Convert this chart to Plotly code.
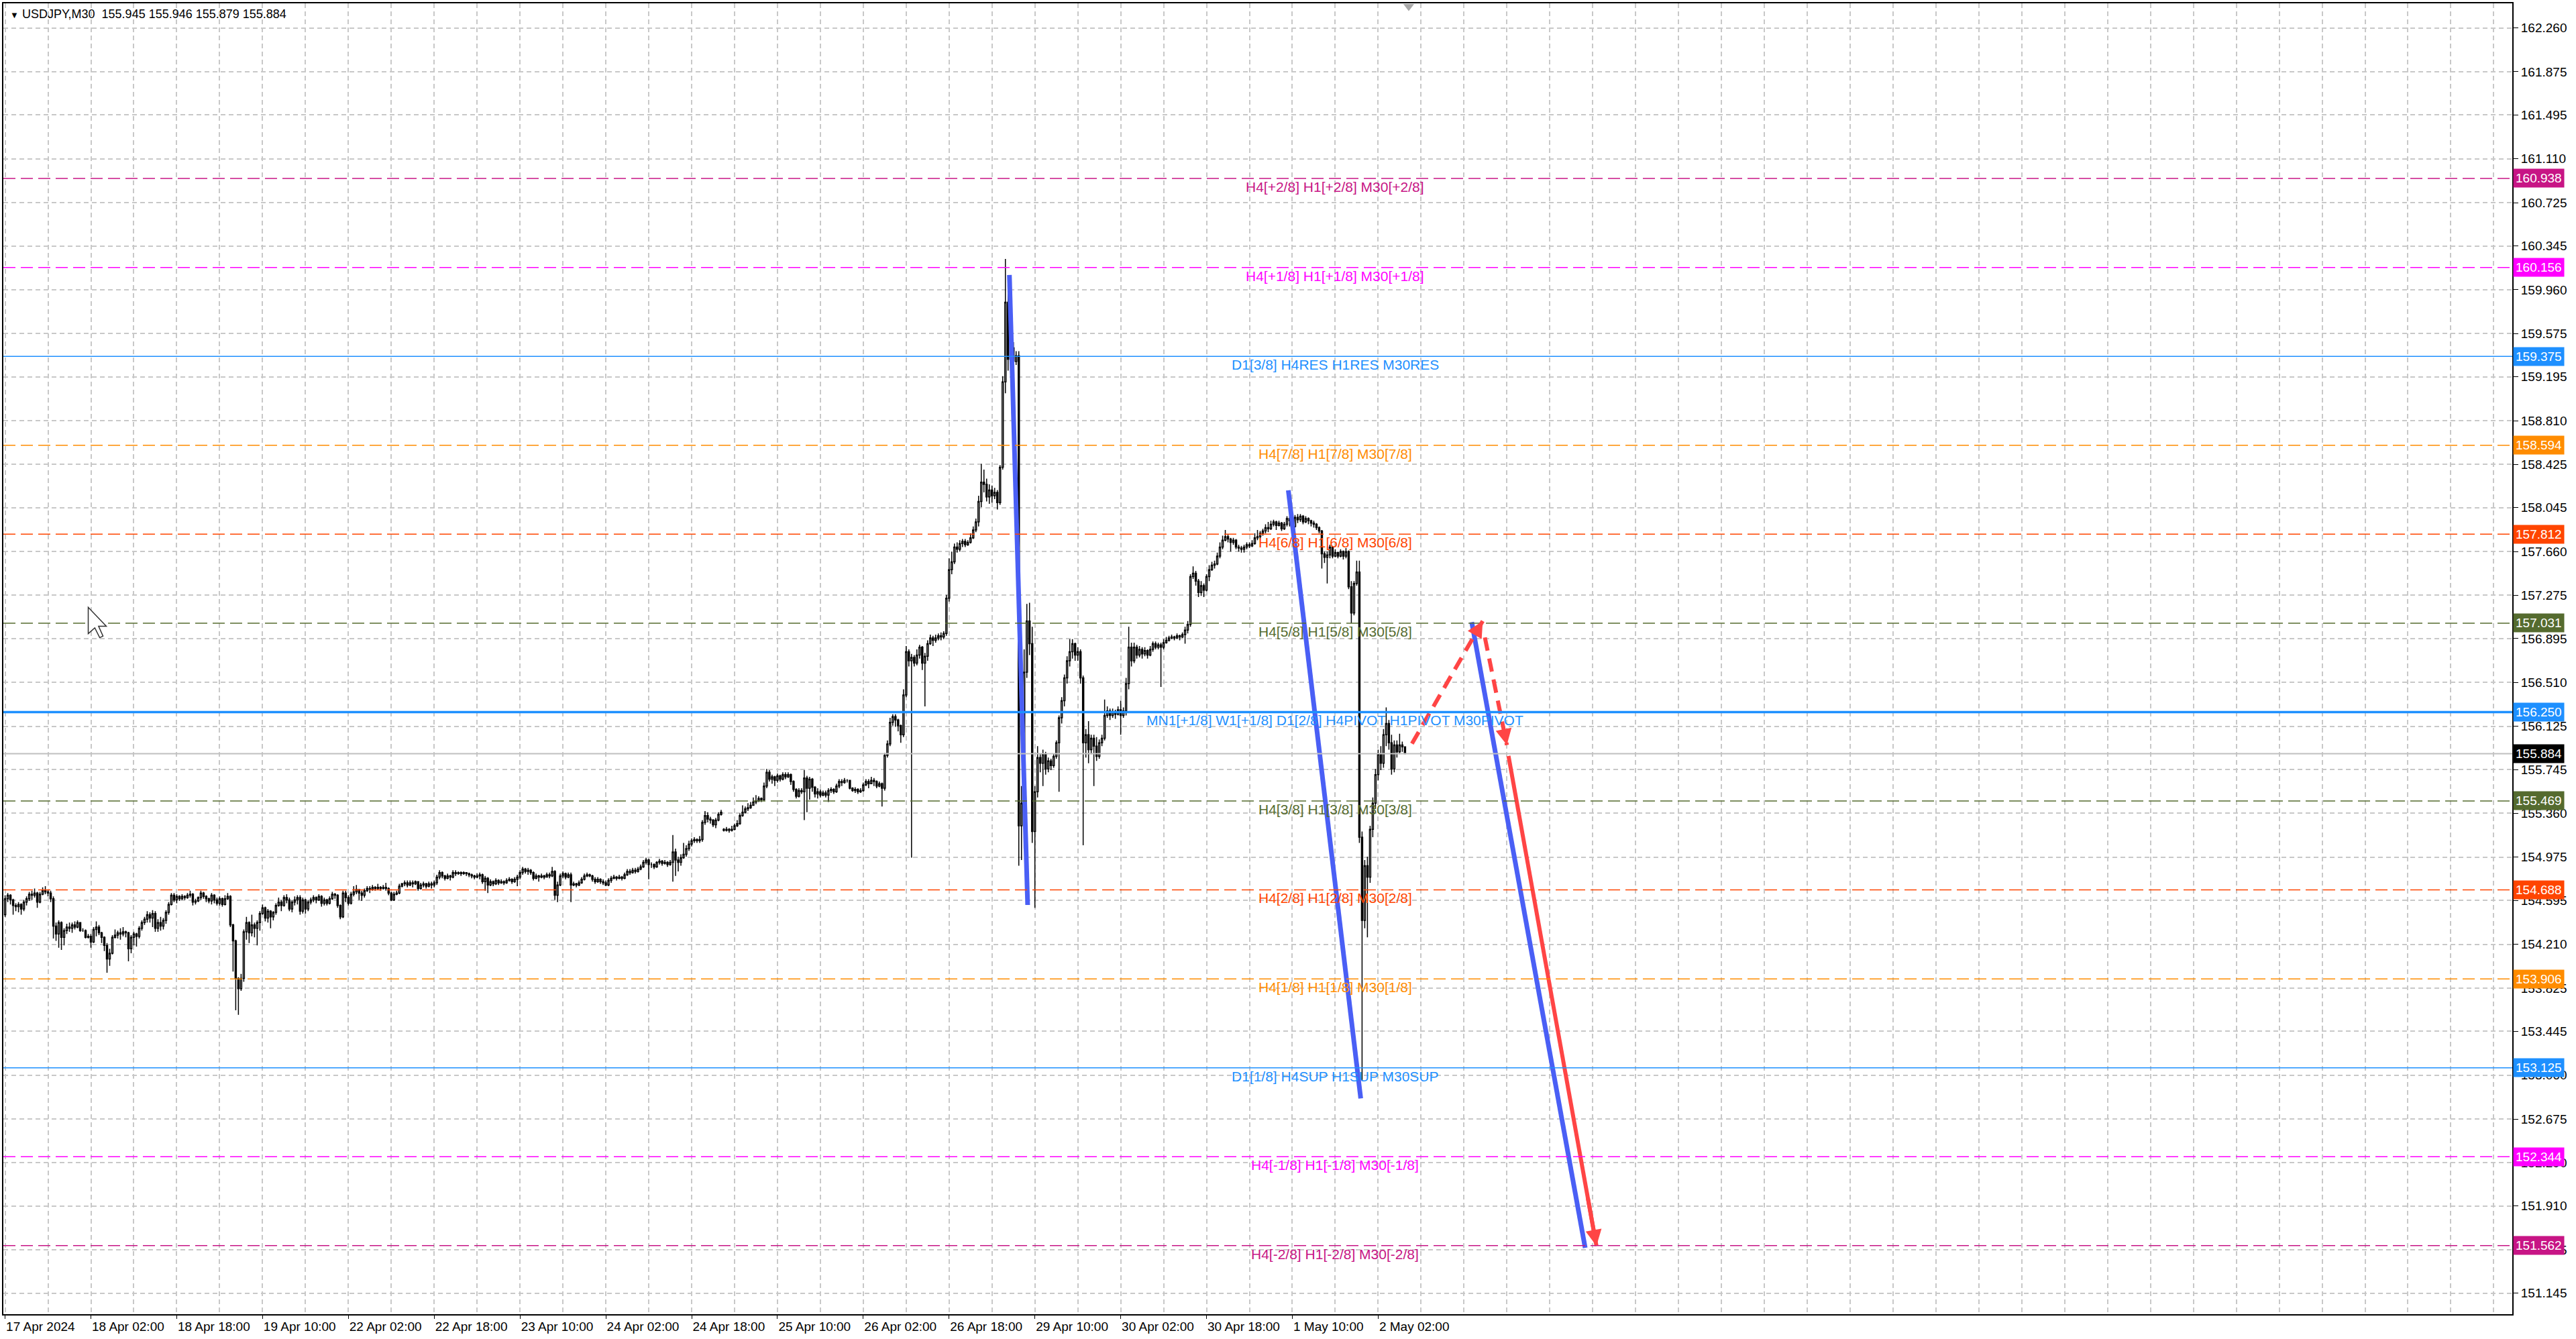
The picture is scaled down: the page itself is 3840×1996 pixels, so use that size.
import plotly.graph_objects as go

# USDJPY M30, bar 0 = 17 Apr 2024 10:00 (bar index used as x)
closes = [
    154.61, 154.64, 154.60, 154.55, 154.54, 154.56, 154.52, 154.58, 154.61, 154.65, 154.64, 154.66, 154.58, 154.65, 154.68, 154.67,
    154.66, 154.61, 154.37, 154.30, 154.40, 154.27, 154.33, 154.36, 154.35, 154.38, 154.36, 154.40, 154.33, 154.33, 154.27, 154.28,
    154.23, 154.34, 154.36, 154.31, 154.27, 154.20, 154.08, 154.13, 154.27, 154.29, 154.31, 154.30, 154.32, 154.31, 154.17, 154.27,
    154.30, 154.28, 154.35, 154.40, 154.43, 154.47, 154.44, 154.48, 154.35, 154.40, 154.37, 154.42, 154.49, 154.56, 154.64, 154.60,
    154.63, 154.61, 154.63, 154.62, 154.64, 154.65, 154.58, 154.59, 154.62, 154.66, 154.63, 154.61, 154.59, 154.64, 154.60, 154.57,
    154.61, 154.56, 154.61, 154.63, 154.38, 154.24, 153.91, 153.82, 153.91, 154.32, 154.40, 154.31, 154.38, 154.35, 154.40, 154.48,
    154.53, 154.44, 154.50, 154.45, 154.49, 154.55, 154.58, 154.55, 154.62, 154.60, 154.52, 154.58, 154.60, 154.62, 154.50, 154.60,
    154.52, 154.58, 154.60, 154.62, 154.60, 154.63, 154.57, 154.60, 154.57, 154.61, 154.65, 154.64, 154.55, 154.45, 154.66, 154.62,
    154.57, 154.65, 154.67, 154.69, 154.66, 154.64, 154.68, 154.70, 154.69, 154.71, 154.70, 154.71, 154.70, 154.71, 154.70, 154.66,
    154.60, 154.65, 154.66, 154.72, 154.74, 154.75, 154.73, 154.75, 154.74, 154.76, 154.70, 154.73, 154.74, 154.72, 154.74, 154.73,
    154.75, 154.80, 154.84, 154.81, 154.79, 154.81, 154.80, 154.84, 154.83, 154.84, 154.83, 154.84, 154.83, 154.82, 154.81, 154.80,
    154.81, 154.82, 154.76, 154.79, 154.73, 154.76, 154.74, 154.77, 154.75, 154.76, 154.75, 154.77, 154.78, 154.76, 154.78, 154.80,
    154.84, 154.87, 154.85, 154.86, 154.84, 154.79, 154.81, 154.80, 154.81, 154.80, 154.82, 154.81, 154.85, 154.64, 154.73, 154.81,
    154.83, 154.80, 154.82, 154.73, 154.74, 154.73, 154.75, 154.78, 154.81, 154.82, 154.81, 154.78, 154.76, 154.78, 154.76, 154.75,
    154.73, 154.77, 154.79, 154.80, 154.79, 154.80, 154.79, 154.82, 154.85, 154.84, 154.86, 154.85, 154.87, 154.89, 154.93, 154.95,
    154.91, 154.91, 154.89, 154.93, 154.94, 154.92, 154.93, 154.91, 154.93, 155.02, 154.95, 154.93, 154.97, 155.00, 155.05, 155.09,
    155.12, 155.13, 155.12, 155.13, 155.28, 155.34, 155.31, 155.30, 155.26, 155.30, 155.35, 155.37, 155.21, 155.22, 155.21, 155.22,
    155.25, 155.27, 155.34, 155.37, 155.40, 155.41, 155.43, 155.46, 155.47, 155.49, 155.48, 155.60, 155.72, 155.66, 155.68, 155.65,
    155.69, 155.66, 155.70, 155.68, 155.70, 155.64, 155.57, 155.51, 155.56, 155.55, 155.67, 155.58, 155.66, 155.59, 155.53, 155.55,
    155.52, 155.54, 155.52, 155.56, 155.57, 155.55, 155.60, 155.64, 155.63, 155.65, 155.65, 155.58, 155.56, 155.57, 155.55, 155.56,
    155.61, 155.64, 155.62, 155.65, 155.64, 155.60, 155.62, 155.58, 155.87, 155.97, 156.16, 156.21, 156.18, 156.13, 156.05, 156.40,
    156.78, 156.70, 156.73, 156.68, 156.75, 156.82, 156.68, 156.74, 156.85, 156.90, 156.88, 156.90, 156.92, 156.91, 156.94, 157.25,
    157.50, 157.57, 157.70, 157.68, 157.73, 157.75, 157.72, 157.74, 157.78, 157.85, 157.92, 158.10, 158.27, 158.25, 158.14, 158.20,
    158.15, 158.18, 158.09, 158.40, 159.15, 159.85, 159.35, 159.45, 159.33, 159.38, 155.25, 155.45, 156.60, 157.05, 156.85, 155.20,
    155.55, 155.85, 155.80, 155.88, 155.75, 155.82, 155.78, 155.86, 155.98, 156.20, 156.35, 156.55, 156.70, 156.78, 156.85, 156.75,
    156.78, 156.55, 155.98, 156.05, 155.92, 156.02, 155.95, 155.86, 155.98, 156.02, 156.22, 156.26, 156.22, 156.25, 156.23, 156.27,
    156.22, 156.26, 156.50, 156.82, 156.70, 156.82, 156.75, 156.80, 156.76, 156.79, 156.75, 156.80, 156.85, 156.82, 156.84, 156.82,
    156.86, 156.88, 156.90, 156.91, 156.90, 156.92, 156.91, 156.93, 156.97, 157.02, 157.44, 157.47, 157.40, 157.30, 157.36, 157.32,
    157.44, 157.50, 157.54, 157.55, 157.62, 157.70, 157.76, 157.79, 157.77, 157.74, 157.76, 157.70, 157.69, 157.68, 157.70, 157.72,
    157.71, 157.73, 157.78, 157.79, 157.82, 157.84, 157.87, 157.86, 157.90, 157.92, 157.89, 157.91, 157.86, 157.90, 157.95, 157.93,
    157.88, 157.96, 157.94, 157.97, 157.92, 157.95, 157.93, 157.91, 157.90, 157.87, 157.84, 157.64, 157.61, 157.63, 157.70, 157.62,
    157.65, 157.62, 157.66, 157.62, 157.66, 157.35, 157.12, 157.38, 157.48, 155.15, 154.42, 154.90, 154.80, 155.22, 155.45, 155.70,
    155.88, 155.80, 156.05, 156.15, 155.98, 155.75, 155.96, 155.90, 155.96, 155.945, 155.884,
]
highs = [
    154.64, 154.66, 154.65, 154.61, 154.57, 154.58, 154.57, 154.60, 154.63, 154.67, 154.68, 154.70, 154.67, 154.67, 154.71, 154.72,
    154.69, 154.68, 154.63, 154.40, 154.42, 154.41, 154.35, 154.39, 154.40, 154.40, 154.41, 154.42, 154.40, 154.35, 154.34, 154.30,
    154.30, 154.36, 154.41, 154.38, 154.32, 154.28, 154.22, 154.17, 154.29, 154.34, 154.33, 154.35, 154.36, 154.33, 154.32, 154.29,
    154.32, 154.31, 154.37, 154.42, 154.45, 154.50, 154.49, 154.51, 154.50, 154.43, 154.45, 154.44, 154.51, 154.58, 154.66, 154.66,
    154.65, 154.64, 154.65, 154.64, 154.66, 154.68, 154.66, 154.61, 154.63, 154.68, 154.67, 154.64, 154.62, 154.66, 154.65, 154.62,
    154.63, 154.62, 154.64, 154.66, 154.64, 154.39, 154.25, 153.92, 153.95, 154.34, 154.45, 154.41, 154.47, 154.40, 154.42, 154.50,
    154.56, 154.54, 154.52, 154.51, 154.50, 154.57, 154.62, 154.60, 154.64, 154.65, 154.62, 154.60, 154.63, 154.64, 154.64, 154.62,
    154.61, 154.60, 154.62, 154.64, 154.63, 154.65, 154.64, 154.62, 154.61, 154.63, 154.67, 154.66, 154.65, 154.56, 154.68, 154.68,
    154.64, 154.67, 154.72, 154.73, 154.69, 154.68, 154.70, 154.72, 154.72, 154.73, 154.72, 154.74, 154.72, 154.73, 154.75, 154.71,
    154.67, 154.67, 154.68, 154.74, 154.75, 154.77, 154.77, 154.77, 154.77, 154.77, 154.76, 154.75, 154.76, 154.75, 154.76, 154.76,
    154.77, 154.82, 154.86, 154.85, 154.82, 154.83, 154.82, 154.86, 154.86, 154.85, 154.85, 154.85, 154.84, 154.84, 154.83, 154.82,
    154.83, 154.84, 154.83, 154.81, 154.80, 154.78, 154.77, 154.79, 154.78, 154.78, 154.77, 154.79, 154.80, 154.79, 154.80, 154.82,
    154.86, 154.89, 154.88, 154.88, 154.87, 154.85, 154.83, 154.82, 154.83, 154.82, 154.84, 154.84, 154.89, 154.86, 154.76, 154.83,
    154.85, 154.84, 154.84, 154.84, 154.76, 154.75, 154.77, 154.80, 154.83, 154.84, 154.83, 154.82, 154.80, 154.80, 154.79, 154.78,
    154.77, 154.79, 154.81, 154.82, 154.81, 154.82, 154.81, 154.84, 154.87, 154.87, 154.88, 154.88, 154.89, 154.91, 154.95, 154.97,
    154.96, 154.93, 154.92, 154.94, 154.96, 154.95, 154.95, 154.94, 154.95, 155.17, 155.05, 154.98, 155.00, 155.10, 155.08, 155.12,
    155.14, 155.15, 155.14, 155.16, 155.30, 155.38, 155.37, 155.33, 155.31, 155.32, 155.37, 155.39, 155.23, 155.24, 155.23, 155.25,
    155.27, 155.30, 155.36, 155.43, 155.42, 155.45, 155.46, 155.50, 155.52, 155.51, 155.50, 155.63, 155.75, 155.74, 155.70, 155.69,
    155.71, 155.70, 155.72, 155.72, 155.72, 155.71, 155.65, 155.58, 155.58, 155.58, 155.74, 155.69, 155.68, 155.67, 155.60, 155.58,
    155.57, 155.56, 155.56, 155.58, 155.59, 155.58, 155.62, 155.66, 155.66, 155.67, 155.66, 155.65, 155.59, 155.59, 155.58, 155.58,
    155.63, 155.66, 155.66, 155.68, 155.67, 155.65, 155.64, 155.63, 155.89, 156.00, 156.20, 156.23, 156.23, 156.19, 156.14, 156.45,
    156.83, 156.80, 156.76, 156.75, 156.80, 156.84, 156.83, 156.77, 156.88, 156.93, 156.92, 156.93, 156.94, 156.95, 156.96, 157.28,
    157.60, 157.66, 157.73, 157.74, 157.76, 157.77, 157.77, 157.76, 157.82, 157.88, 157.95, 158.15, 158.43, 158.38, 158.30, 158.25,
    158.24, 158.22, 158.20, 158.42, 159.20, 160.23, 160.00, 159.59, 159.50, 159.42, 159.42, 155.60, 156.80, 157.20, 157.21, 157.00,
    155.60, 155.95, 155.88, 155.92, 155.90, 155.85, 155.84, 155.88, 156.00, 156.22, 156.38, 156.58, 156.74, 156.89, 156.89, 156.86,
    156.82, 156.80, 156.57, 156.10, 156.17, 156.05, 156.05, 156.03, 156.01, 156.05, 156.36, 156.30, 156.28, 156.28, 156.27, 156.30,
    156.35, 156.29, 156.55, 157.00, 156.86, 156.86, 156.84, 156.83, 156.82, 156.82, 156.80, 156.83, 156.87, 156.87, 156.86, 156.86,
    156.89, 156.91, 156.92, 156.93, 156.92, 156.94, 156.93, 156.95, 157.00, 157.05, 157.46, 157.53, 157.49, 157.42, 157.40, 157.38,
    157.46, 157.54, 157.57, 157.58, 157.65, 157.74, 157.80, 157.85, 157.81, 157.78, 157.78, 157.77, 157.72, 157.71, 157.72, 157.74,
    157.74, 157.76, 157.82, 157.85, 157.84, 157.86, 157.90, 157.92, 157.93, 157.94, 157.93, 157.93, 157.92, 157.92, 157.97, 157.97,
    157.95, 157.98, 157.99, 157.99, 157.98, 157.97, 157.96, 157.94, 157.93, 157.91, 157.88, 157.85, 157.66, 157.66, 157.72, 157.71,
    157.68, 157.66, 157.68, 157.67, 157.69, 157.67, 157.40, 157.40, 157.58, 157.58, 155.20, 154.95, 154.98, 155.25, 155.50, 155.75,
    155.92, 155.95, 156.10, 156.29, 156.18, 156.05, 156.00, 156.00, 156.06, 155.99, 155.946,
]
lows = [
    154.45, 154.58, 154.56, 154.47, 154.50, 154.49, 154.47, 154.50, 154.55, 154.59, 154.60, 154.62, 154.53, 154.57, 154.64, 154.65,
    154.63, 154.58, 154.26, 154.24, 154.18, 154.16, 154.20, 154.30, 154.32, 154.31, 154.34, 154.35, 154.32, 154.32, 154.26, 154.26,
    154.18, 154.22, 154.28, 154.29, 154.22, 154.15, 153.96, 154.02, 154.12, 154.26, 154.26, 154.25, 154.28, 154.27, 154.06, 154.13,
    154.20, 154.19, 154.26, 154.33, 154.38, 154.40, 154.40, 154.36, 154.32, 154.32, 154.33, 154.34, 154.39, 154.47, 154.55, 154.58,
    154.57, 154.59, 154.60, 154.60, 154.61, 154.62, 154.55, 154.56, 154.58, 154.60, 154.61, 154.58, 154.57, 154.56, 154.57, 154.55,
    154.55, 154.54, 154.55, 154.60, 154.36, 153.97, 153.63, 153.59, 153.80, 153.88, 154.25, 154.22, 154.28, 154.27, 154.20, 154.33,
    154.47, 154.41, 154.40, 154.35, 154.42, 154.47, 154.54, 154.50, 154.54, 154.57, 154.50, 154.49, 154.55, 154.56, 154.47, 154.48,
    154.48, 154.50, 154.56, 154.58, 154.57, 154.59, 154.54, 154.55, 154.55, 154.56, 154.60, 154.61, 154.53, 154.43, 154.44, 154.58,
    154.55, 154.56, 154.63, 154.65, 154.60, 154.59, 154.62, 154.67, 154.66, 154.68, 154.68, 154.69, 154.68, 154.69, 154.68, 154.64,
    154.59, 154.59, 154.64, 154.65, 154.71, 154.72, 154.71, 154.72, 154.71, 154.73, 154.68, 154.69, 154.71, 154.70, 154.71, 154.70,
    154.71, 154.73, 154.78, 154.79, 154.77, 154.78, 154.77, 154.79, 154.81, 154.82, 154.81, 154.82, 154.81, 154.80, 154.79, 154.78,
    154.79, 154.78, 154.74, 154.68, 154.66, 154.72, 154.72, 154.73, 154.73, 154.74, 154.73, 154.74, 154.76, 154.74, 154.75, 154.72,
    154.78, 154.82, 154.83, 154.82, 154.82, 154.77, 154.78, 154.76, 154.79, 154.78, 154.80, 154.79, 154.80, 154.60, 154.58, 154.72,
    154.79, 154.78, 154.79, 154.58, 154.72, 154.71, 154.72, 154.74, 154.77, 154.80, 154.80, 154.76, 154.74, 154.75, 154.74, 154.73,
    154.72, 154.72, 154.75, 154.78, 154.77, 154.78, 154.77, 154.78, 154.81, 154.82, 154.83, 154.83, 154.84, 154.86, 154.88, 154.91,
    154.78, 154.88, 154.87, 154.88, 154.91, 154.90, 154.91, 154.89, 154.90, 154.76, 154.81, 154.85, 154.90, 154.96, 154.98, 155.03,
    155.07, 155.10, 155.10, 155.10, 155.11, 155.26, 155.28, 155.27, 155.24, 155.23, 155.29, 155.34, 155.20, 155.20, 155.19, 155.20,
    155.21, 155.24, 155.26, 155.33, 155.36, 155.38, 155.40, 155.43, 155.44, 155.46, 155.46, 155.47, 155.58, 155.64, 155.62, 155.60,
    155.63, 155.64, 155.65, 155.66, 155.67, 155.61, 155.55, 155.49, 155.50, 155.53, 155.30, 155.37, 155.48, 155.55, 155.50, 155.49,
    155.50, 155.51, 155.50, 155.46, 155.54, 155.53, 155.54, 155.58, 155.60, 155.62, 155.63, 155.57, 155.55, 155.54, 155.53, 155.54,
    155.55, 155.60, 155.58, 155.62, 155.60, 155.58, 155.59, 155.42, 155.56, 155.85, 155.95, 156.13, 156.12, 156.08, 155.98, 156.03,
    156.38, 156.65, 154.97, 156.65, 156.66, 156.72, 156.62, 156.30, 156.70, 156.84, 156.83, 156.86, 156.88, 156.88, 156.89, 156.92,
    157.22, 157.46, 157.55, 157.65, 157.66, 157.70, 157.70, 157.71, 157.73, 157.77, 157.83, 157.88, 158.05, 158.18, 158.10, 158.08,
    158.09, 158.12, 158.03, 158.07, 158.38, 159.05, 159.25, 159.28, 159.28, 159.30, 154.90, 154.95, 155.05, 156.55, 156.75, 155.10,
    154.53, 155.50, 155.72, 155.60, 155.70, 155.72, 155.74, 155.76, 155.84, 155.55, 156.15, 156.30, 156.50, 156.65, 156.72, 156.70,
    156.70, 156.50, 155.08, 155.85, 155.80, 155.88, 155.60, 155.82, 155.84, 155.95, 156.00, 156.20, 156.18, 156.20, 156.19, 156.22,
    156.05, 156.20, 156.22, 156.45, 156.65, 156.68, 156.72, 156.73, 156.72, 156.74, 156.72, 156.74, 156.78, 156.80, 156.80, 156.47,
    156.80, 156.85, 156.87, 156.89, 156.88, 156.89, 156.88, 156.90, 156.85, 156.94, 157.00, 157.42, 157.36, 157.26, 157.27, 157.26,
    157.31, 157.40, 157.49, 157.51, 157.54, 157.60, 157.68, 157.75, 157.74, 157.66, 157.72, 157.68, 157.66, 157.65, 157.65, 157.68,
    157.69, 157.70, 157.72, 157.76, 157.77, 157.80, 157.82, 157.83, 157.85, 157.88, 157.85, 157.88, 157.84, 157.85, 157.88, 157.88,
    157.86, 157.87, 157.91, 157.92, 157.90, 157.91, 157.90, 157.88, 157.87, 157.85, 157.82, 157.51, 157.56, 157.38, 157.60, 157.60,
    157.61, 157.60, 157.61, 157.59, 157.60, 157.33, 157.03, 157.10, 157.36, 155.10, 153.01, 154.35, 154.27, 154.75, 155.15, 155.40,
    155.65, 155.74, 155.76, 155.95, 155.92, 155.70, 155.72, 155.85, 155.88, 155.90, 155.879,
]
# bars whose open is not the previous close
gap_opens = {0: 154.47, 268: 155.22}

tick_bars = list(range(0, 513, 32))
tick_labels = ["17 Apr 2024", "18 Apr 02:00", "18 Apr 18:00", "19 Apr 10:00", "22 Apr 02:00",
               "22 Apr 18:00", "23 Apr 10:00", "24 Apr 02:00", "24 Apr 18:00", "25 Apr 10:00",
               "26 Apr 02:00", "26 Apr 18:00", "29 Apr 10:00", "30 Apr 02:00", "30 Apr 18:00",
               "1 May 10:00", "2 May 02:00"]

price_ticks = [162.260, 161.875, 161.495, 161.110, 160.725, 160.345, 159.960, 159.575, 159.195,
               158.810, 158.425, 158.045, 157.660, 157.275, 156.895, 156.510, 156.125, 155.745,
               155.360, 154.975, 154.595, 154.210, 153.825, 153.445, 153.060, 152.675, 152.290,
               151.910, 151.525, 151.145]

levels = [160.938, 160.156, 159.375, 158.594, 157.812, 157.031, 156.250,
          155.469, 154.688, 153.906, 153.125, 152.344, 151.562]
level_names = ["H4[+2/8] H1[+2/8] M30[+2/8]", "H4[+1/8] H1[+1/8] M30[+1/8]",
               "D1[3/8] H4RES H1RES M30RES", "H4[7/8] H1[7/8] M30[7/8]",
               "H4[6/8] H1[6/8] M30[6/8]", "H4[5/8] H1[5/8] M30[5/8]",
               "MN1[+1/8] W1[+1/8] D1[2/8] H4PIVOT H1PIVOT M30PIVOT",
               "H4[3/8] H1[3/8] M30[3/8]", "H4[2/8] H1[2/8] M30[2/8]",
               "H4[1/8] H1[1/8] M30[1/8]", "D1[1/8] H4SUP H1SUP M30SUP",
               "H4[-1/8] H1[-1/8] M30[-1/8]", "H4[-2/8] H1[-2/8] M30[-2/8]"]
level_colors = ["#C71585", "#FF00FF", "#1E90FF", "#FF8C00", "#FF4500", "#556B2F", "#1E90FF",
                "#556B2F", "#FF4500", "#FF8C00", "#1E90FF", "#FF00FF", "#C71585"]
level_solid = [False, False, True, False, False, False, True,
               False, False, False, True, False, False]
level_widths = [1.5, 1.5, 1.5, 1.5, 1.5, 1.5, 3.5, 1.5, 1.5, 1.5, 1.5, 1.5, 1.5]
label_bar = 496

last_price = 155.884
header = "USDJPY,M30\u00a0 155.945 155.946 155.879 155.884"

# drawn objects: (bar, price) start -> end
blue_lines = [((374.5, 160.09), (381.3, 154.555)),
              ((478.5, 158.198), (505.5, 152.855)),
              ((546.9, 157.04), (589.2, 151.543))]
red_dashed = [((524.6, 155.972), (551.0, 157.05)),
              ((551.8, 156.905), (560.0, 155.96))]
red_solid = [((560.6, 155.864), (593.4, 151.56))]

# chart shift marker and the mouse pointer left on the chart
shift_bar = 523.4
pointer_bar, pointer_price = 31.0, 157.17

BLUE = "#4a5ff5"
RED = "#ff4545"
FONT = "Liberation Sans"

bars = list(range(len(closes)))
opens = [gap_opens.get(i, closes[i - 1]) for i in bars]
highs = [max(h, o, c) for h, o, c in zip(highs, opens, closes)]
lows = [min(l, o, c) for l, o, c in zip(lows, opens, closes)]

fig = go.Figure()
fig.add_trace(go.Candlestick(
    x=bars, open=opens, high=highs, low=lows, close=closes,
    increasing=dict(line=dict(color="black", width=1.5), fillcolor="white"),
    decreasing=dict(line=dict(color="black", width=1.5), fillcolor="black"),
    whiskerwidth=0, showlegend=False, hoverinfo="skip",
))

# Murrey levels
for lv, col, solid, w in zip(levels, level_colors, level_solid, level_widths):
    fig.add_shape(type="line", xref="paper", x0=0, x1=1, yref="y", y0=lv, y1=lv,
                  line=dict(color=col, width=w, dash="solid" if solid else "18px,8px"))
fig.add_shape(type="line", xref="paper", x0=0, x1=1, yref="y", y0=last_price, y1=last_price,
              line=dict(color="#c0c0c0", width=2))

for lv, name, col in zip(levels, level_names, level_colors):
    fig.add_annotation(x=label_bar, y=lv, xref="x", yref="y", text=name, showarrow=False,
                       yanchor="top", yshift=1, font=dict(family=FONT, size=21, color=col))

# price boxes on the right scale
for lv, col in zip(levels + [last_price], level_colors + ["#000000"]):
    fig.add_annotation(xref="paper", x=1, xanchor="left", xshift=1, y=lv, yref="y",
                       text=f"{lv:.3f}", showarrow=False, bgcolor=col, borderpad=3,
                       font=dict(family=FONT, size=19, color="white"))

# trend lines
for (x0, y0), (x1, y1) in blue_lines:
    fig.add_trace(go.Scatter(x=[x0, x1], y=[y0, y1], mode="lines",
                             line=dict(color=BLUE, width=7), showlegend=False, hoverinfo="skip"))
for (x0, y0), (x1, y1) in red_dashed:
    fig.add_trace(go.Scatter(x=[x0, x1], y=[y0, y1], mode="lines",
                             line=dict(color=RED, width=6, dash="20px,12px"),
                             showlegend=False, hoverinfo="skip"))
for (x0, y0), (x1, y1) in red_solid:
    fig.add_trace(go.Scatter(x=[x0, x1], y=[y0, y1], mode="lines",
                             line=dict(color=RED, width=6), showlegend=False, hoverinfo="skip"))

for (x0, y0), (x1, y1) in red_dashed + red_solid:
    fig.add_annotation(x=x1, y=y1, ax=x1 - 0.1 * (x1 - x0), ay=y1 - 0.1 * (y1 - y0),
                       xref="x", yref="y", axref="x", ayref="y", text="", showarrow=True,
                       arrowhead=2, arrowsize=0.8, arrowwidth=6, arrowcolor=RED)

# small grey shift triangle at the top edge
fig.add_trace(go.Scatter(x=[shift_bar], y=[162.45], mode="markers", cliponaxis=False,
                         marker=dict(symbol="triangle-down", size=14, color="#a8a8a8"),
                         showlegend=False, hoverinfo="skip"))

# mouse pointer (arrow outline)
px, py = pointer_bar, pointer_price
pts = [(0, 0), (0, 16), (4, 12.5), (7, 18.5), (9, 17.5), (6.3, 11.5), (11, 11.5)]
path = "M " + " L ".join(f"{px + dx / 1.633:.3f},{py - dy / 69.3:.4f}" for dx, dy in pts) + " Z"
fig.add_shape(type="path", xref="x", yref="y", path=path,
              line=dict(color="#303030", width=1.5), fillcolor="white")

fig.add_annotation(xref="paper", yref="paper", x=0, y=1, xanchor="left", yanchor="top",
                   xshift=8, yshift=-4, showarrow=False,
                   text='<span style="font-size:13px">\u25bc</span> ' + header,
                   font=dict(family=FONT, size=18, color="black"))

fig.update_layout(
    width=3840, height=1996,
    margin=dict(l=3, r=95, t=5, b=37),
    paper_bgcolor="white", plot_bgcolor="white",
    showlegend=False,
    xaxis=dict(
        range=[-0.65, 934.9], rangeslider=dict(visible=False),
        tickmode="array", tickvals=tick_bars, ticktext=tick_labels,
        ticks="outside", ticklen=5, tickcolor="black", ticklabelposition="outside right",
        tickfont=dict(family=FONT, size=19, color="black"),
        showgrid=True, gridcolor="#c8c8c8", gridwidth=1.5, griddash="7px,5px",
        minor=dict(tickmode="linear", tick0=0, dtick=16, showgrid=True, ticks="",
                   gridcolor="#c8c8c8", gridwidth=1.5, griddash="7px,5px"),
        showline=True, linecolor="black", linewidth=2, mirror=True, zeroline=False,
    ),
    yaxis=dict(
        side="right", range=[150.96, 162.476],
        tickmode="array", tickvals=price_ticks, ticktext=[f"{p:.3f}" for p in price_ticks],
        ticks="outside", ticklen=7, tickcolor="black",
        tickfont=dict(family=FONT, size=19, color="black"),
        showgrid=True, gridcolor="#c8c8c8", gridwidth=1.5, griddash="7px,5px",
        showline=True, linecolor="black", linewidth=2, mirror=True, zeroline=False,
    ),
)

fig.write_html("out.html", config={"displayModeBar": False},
               post_script="document.body.style.margin = '0px';")
